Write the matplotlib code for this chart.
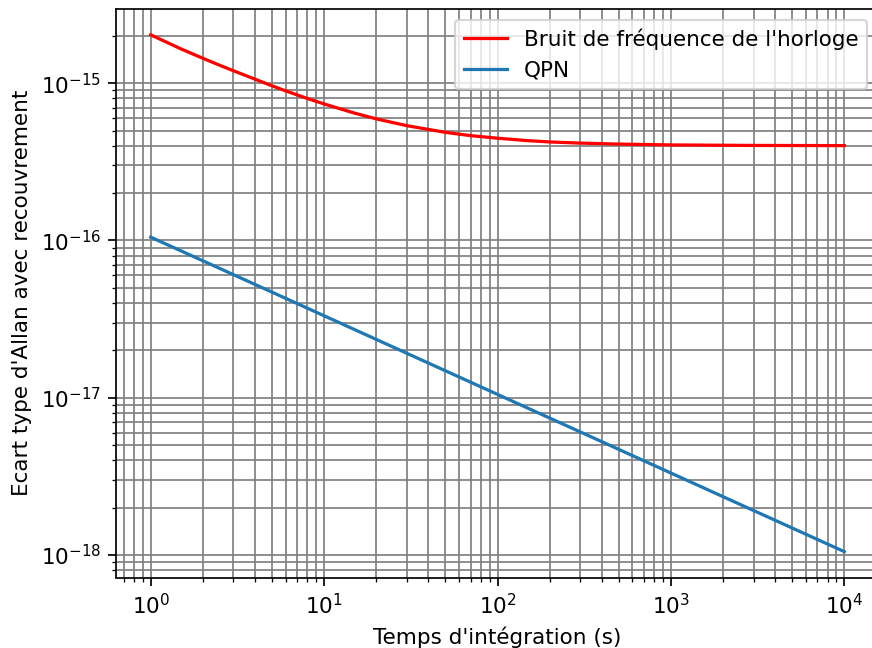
import numpy as np
import matplotlib
matplotlib.use("Agg")
import matplotlib.pyplot as plt

# temps d'integration (s) et ecarts types
tau_horloge = [1, 1.5, 2, 2.5, 3, 4, 5, 6, 7, 8, 10, 15, 20, 30, 50, 70, 100, 150, 200,
               300, 500, 1000, 3000, 10000]
sigma_horloge = [2.03e-15, 1.65e-15, 1.44e-15, 1.3e-15, 1.2e-15, 1.06e-15, 9.63e-16,
                 8.94e-16, 8.42e-16, 8.0e-16, 7.38e-16, 6.45e-16, 5.93e-16, 5.37e-16,
                 4.87e-16, 4.64e-16, 4.47e-16, 4.31e-16, 4.23e-16, 4.16e-16, 4.1e-16,
                 4.05e-16, 4.02e-16, 4.01e-16]

tau_qpn = [1, 10, 100, 1000, 10000]
sigma_qpn = [1.05e-16, 3.32e-17, 1.05e-17, 3.32e-18, 1.05e-18]

dpi = 155
fig = plt.figure(figsize=(872 / dpi, 648 / dpi), dpi=dpi)
ax = fig.add_axes([116 / 872, (648 - 577.5) / 648, (879 - 116) / 872, (577.5 - 9) / 648])

ax.loglog(tau_horloge, sigma_horloge, color='red', label="Bruit de fréquence de l'horloge")
ax.loglog(tau_qpn, sigma_qpn, color='#1f77b4', label='QPN')

ax.grid(True, which='both', color='gray')
ax.set_axisbelow(True)
ax.set_xlabel("Temps d'intégration (s)")
ax.set_ylabel("Ecart type d'Allan avec recouvrement")
ax.legend(loc='upper right', bbox_to_anchor=((878 - 116) / (879 - 116), 1.0))

fig.savefig('out.png', dpi=dpi)
